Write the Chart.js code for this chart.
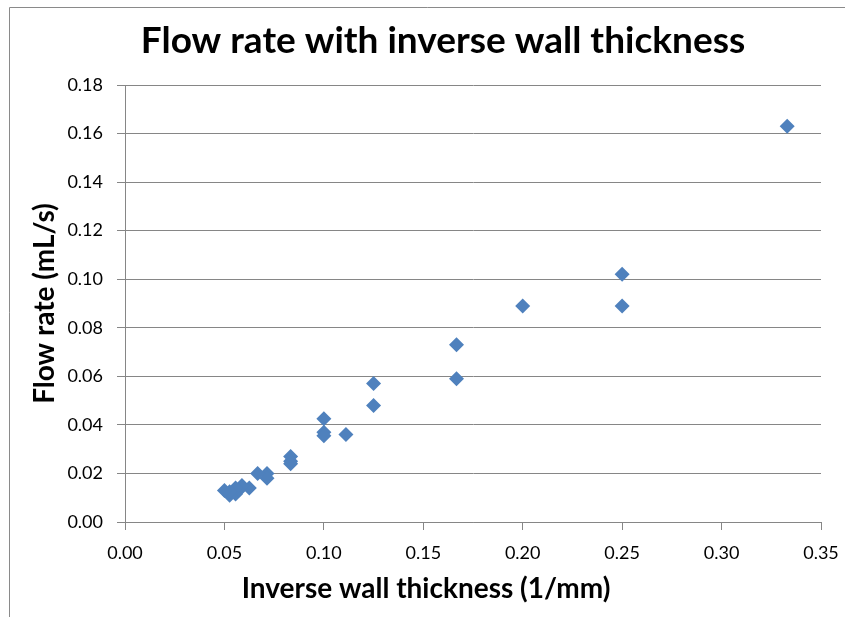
<!DOCTYPE html>
<html>
<head>
<meta charset="utf-8">
<script src="https://cdn.jsdelivr.net/npm/chart.js@4.4.0/dist/chart.umd.min.js"></script>
<style>
  html, body { margin: 0; padding: 0; background: #fff; }
  #wrap { width: 845px; height: 617px; }
</style>
</head>
<body>
<div id="wrap"><canvas id="grafico" width="845" height="617"></canvas></div>
<script>
// valores
const titulo = 'Flow rate with inverse wall thickness';
const tituloX = 'Inverse wall thickness (1/mm)';
const tituloY = 'Flow rate (mL/s)';

const espesorInv = [0.333, 0.25, 0.25, 0.2, 0.1667, 0.1667, 0.125, 0.125, 0.1111,
  0.1, 0.1, 0.1, 0.0833, 0.0833, 0.0833, 0.0714, 0.0714, 0.0667, 0.0625,
  0.0588, 0.0571, 0.0556, 0.0556, 0.0526, 0.0526, 0.05];
const caudal = [0.163, 0.102, 0.089, 0.089, 0.073, 0.059, 0.057, 0.048, 0.036,
  0.0425, 0.037, 0.0355, 0.027, 0.025, 0.024, 0.020, 0.018, 0.020, 0.014,
  0.015, 0.013, 0.0115, 0.014, 0.011, 0.0125, 0.013];

const ticksX = [0, 0.05, 0.10, 0.15, 0.20, 0.25, 0.30, 0.35];
const ticksY = [0, 0.02, 0.04, 0.06, 0.08, 0.10, 0.12, 0.14, 0.16, 0.18];

const puntos = espesorInv.map((x, i) => ({ x: x, y: caudal[i] }));

const fuente = 'Lato, Calibri, "Liberation Sans", sans-serif';

// marco, titulo y titulo del eje x
const extras = {
  id: 'extras',
  beforeDraw(chart) {
    const c = chart.ctx;
    c.save();
    c.strokeStyle = '#8a8a8a';
    c.lineWidth = 1;
    c.beginPath();
    c.moveTo(9.5, 640);
    c.lineTo(9.5, 7.5);
    c.lineTo(860, 7.5);
    c.stroke();
    c.restore();
  },
  afterDraw(chart) {
    const c = chart.ctx;
    c.save();
    c.fillStyle = '#000';
    c.textAlign = 'center';
    c.textBaseline = 'middle';
    c.font = 'bold 37px ' + fuente;
    c.fillText(titulo, 443, 41);
    c.font = 'bold 28px ' + fuente;
    c.fillText(tituloX, 426, 589);
    c.restore();
  }
};

const grafico = new Chart(document.getElementById('grafico').getContext('2d'), {
  type: 'scatter',
  data: {
    datasets: [{
      label: 'Flow rate',
      data: puntos,
      pointStyle: 'rectRot',
      pointRadius: 7.5,
      pointHoverRadius: 7.5,
      backgroundColor: '#4f81bd',
      borderColor: '#4f81bd',
      borderWidth: 0
    }]
  },
  options: {
    responsive: false,
    animation: false,
    layout: { padding: { top: 85, right: 24, left: 0, bottom: 0 } },
    plugins: {
      legend: { display: false },
      tooltip: { enabled: false },
      title: { display: false }
    },
    scales: {
      x: {
        type: 'linear',
        min: 0,
        max: 0.35,
        afterBuildTicks: (eje) => { eje.ticks = ticksX.map(v => ({ value: v })); },
        afterFit: (eje) => { eje.height = 95; eje.paddingRight = 0; eje.paddingLeft = 0; },
        ticks: {
          color: '#000',
          padding: 12,
          maxRotation: 0,
          font: { family: fuente, size: 18 },
          callback: (v) => Number(v).toFixed(2)
        },
        grid: { drawOnChartArea: false, drawTicks: true, tickLength: 8, color: '#868686' },
        border: { color: '#868686' }
      },
      y: {
        type: 'linear',
        min: 0,
        max: 0.18,
        afterBuildTicks: (eje) => { eje.ticks = ticksY.map(v => ({ value: v })); },
        afterFit: (eje) => { eje.width = 125; eje.paddingTop = 0; eje.paddingBottom = 0; },
        ticks: {
          color: '#000',
          padding: 14,
          font: { family: fuente, size: 18 },
          callback: (v) => Number(v).toFixed(2)
        },
        grid: { color: '#868686', tickLength: 8 },
        border: { color: '#868686' },
        title: {
          display: true,
          text: tituloY,
          color: '#000',
          font: { family: fuente, size: 28, weight: 'bold' },
          padding: { top: 28, bottom: 0 }
        }
      }
    }
  },
  plugins: [extras]
});
</script>
</body>
</html>
